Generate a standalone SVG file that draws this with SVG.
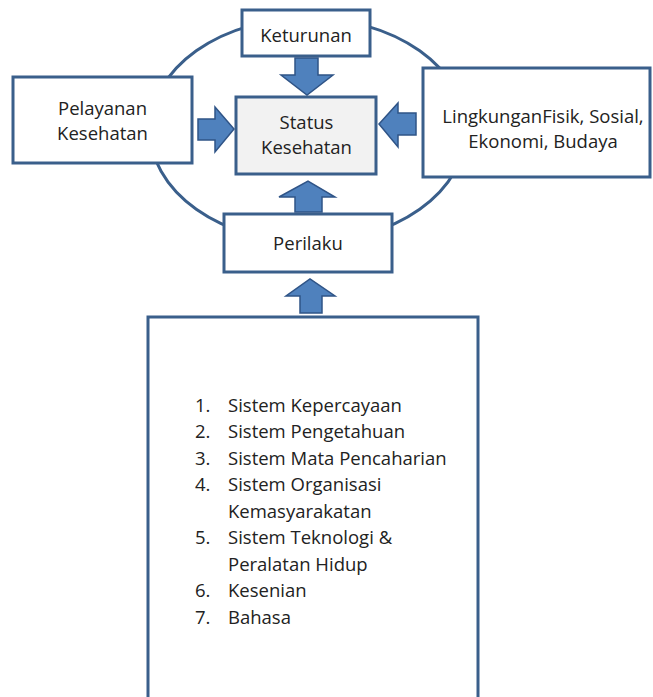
<svg xmlns="http://www.w3.org/2000/svg" width="653" height="697" viewBox="0 0 653 697">
  <style>
    .box { fill: #ffffff; stroke: #3a5f8b; stroke-width: 3; }
    .status { fill: #f2f2f2; stroke: #3a5f8b; stroke-width: 3; }
    .ring { fill: none; stroke: #3a5f8b; stroke-width: 3; }
    .arrow { fill: #4f81bd; stroke: #2f5487; stroke-width: 1.5; stroke-linejoin: miter; }
    text { font-family: "Open Sans", "Noto Sans", "Liberation Sans", sans-serif; font-size: 18.5px; fill: #222222; }
    .c { text-anchor: middle; }
  </style>
  <rect x="0" y="0" width="653" height="697" fill="#ffffff"/>
  <g id="ring">
    <ellipse class="ring" cx="308" cy="130" rx="158" ry="112"/>
  </g>
  <g id="keturunan">
    <rect class="box" x="242" y="10" width="128" height="46"/>
    <text class="c" x="306" y="42">Keturunan</text>
  </g>
  <g id="pelayanan">
    <rect class="box" x="13" y="77" width="179" height="86"/>
    <text class="c" x="102.5" y="115">Pelayanan</text>
    <text class="c" x="102.5" y="140">Kesehatan</text>
  </g>
  <g id="lingkungan">
    <rect class="box" x="423" y="68" width="227" height="109"/>
    <text class="c" x="543" y="123">LingkunganFisik, Sosial,</text>
    <text class="c" x="543" y="148">Ekonomi, Budaya</text>
  </g>
  <g id="status">
    <rect class="status" x="236" y="97" width="140" height="77"/>
    <text class="c" x="306.5" y="129">Status</text>
    <text class="c" x="306.5" y="154">Kesehatan</text>
  </g>
  <g id="perilaku">
    <rect class="box" x="224" y="214" width="168" height="58"/>
    <text class="c" x="308" y="250">Perilaku</text>
  </g>
  <g id="budaya">
    <rect class="box" x="148" y="317" width="330" height="400"/>
    <text x="195" y="411.5">1.</text><text x="228" y="411.5">Sistem Kepercayaan</text>
    <text x="195" y="438">2.</text><text x="228" y="438">Sistem Pengetahuan</text>
    <text x="195" y="464.5">3.</text><text x="228" y="464.5">Sistem Mata Pencaharian</text>
    <text x="195" y="491">4.</text><text x="228" y="491">Sistem Organisasi</text>
    <text x="228" y="517.5">Kemasyarakatan</text>
    <text x="195" y="544">5.</text><text x="228" y="544">Sistem Teknologi &amp;</text>
    <text x="228" y="570.5">Peralatan Hidup</text>
    <text x="195" y="597">6.</text><text x="228" y="597">Kesenian</text>
    <text x="195" y="623.5">7.</text><text x="228" y="623.5">Bahasa</text>
  </g>
  <g id="connectors">
    <polygon class="arrow" points="295,58 318,58 318,75 333,75 307,95 281,75 295,75"/>
    <polygon class="arrow" points="198,119 215,119 215,107 234,129 215,152 215,140 198,140"/>
    <polygon class="arrow" points="416,113 398,113 398,103 379,124 398,147 398,135 416,135"/>
    <polygon class="arrow" points="295,212 322,212 322,197 335,197 308,181 279,197 295,197"/>
    <polygon class="arrow" points="300,313 322,313 322,296 335,296 310,279 286,296 300,296"/>
  </g>
</svg>
